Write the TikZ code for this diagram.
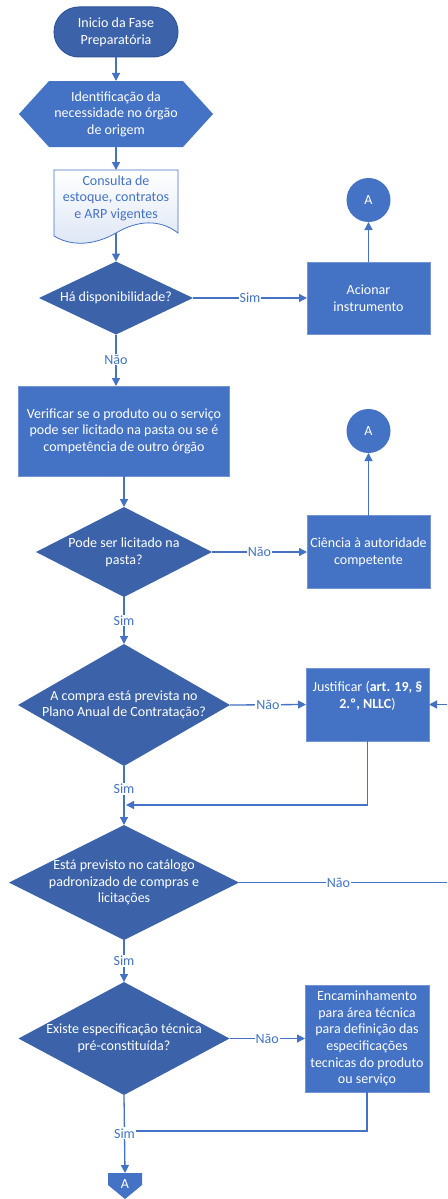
\documentclass[tikz,border=0pt]{standalone}
\usepackage{fontspec}
\setmainfont{Carlito}
\usetikzlibrary{shapes.geometric,arrows.meta}
\definecolor{cbox}{HTML}{4472C4}
\definecolor{cdia}{HTML}{3C63A9}
\definecolor{cdark}{HTML}{2F5597}
\definecolor{cline}{HTML}{4472C4}
\definecolor{cdoc}{HTML}{DDE6F5}
\tikzset{
  fnt/.style={font=\fontsize{14}{16.6}\selectfont},
  txt/.style={fnt, align=center, text=white, inner sep=0pt},
  box/.style={rectangle, fill=cbox, draw=cbox!75!white, line width=0.8pt, inner sep=0pt, outer sep=0pt, align=center, text=white, fnt},
  ghost/.style={rectangle, inner sep=0pt, outer sep=0pt},
  dia/.style={diamond, fill=cdia, inner sep=0pt, outer sep=0pt},
  conn/.style={circle, fill=cbox, minimum size=44pt, inner sep=0pt, outer sep=0pt, text=white, fnt},
  flow/.style={draw=cline, line width=1.3pt, -{Triangle[width=8pt,length=8pt]}},
  plain/.style={draw=cline, line width=1.3pt},
  lab/.style={fnt, text=cline, fill=white, inner sep=1pt}
}
\begin{document}
\begin{tikzpicture}[x=1pt,y=-1pt]
\useasboundingbox (0,0) rectangle (447,1199);
\fill[white] (0,0) rectangle (447,1199);
\clip (0,0) rectangle (447,1199);

% terminator
\node[rectangle, rounded corners=25pt, fill=cdia, draw=cdark, line width=1pt,
      minimum width=124pt, minimum height=50pt, align=center, text=white, fnt, inner sep=0pt]
      (term) at (116,32) {Inicio da Fase\\Preparatória};

% hexagon
\node[ghost, minimum width=194pt, minimum height=66pt] (hex) at (116,114) {};
\fill[cbox] (hex.west) -- ([xshift=30pt]hex.north west) -- ([xshift=-30pt]hex.north east)
   -- (hex.east) -- ([xshift=-30pt]hex.south east) -- ([xshift=30pt]hex.south west) -- cycle;
\node[txt] (hext) at (hex) {Identificação da\\necessidade no órgão\\de origem};

% document
\node[ghost, minimum width=124pt, minimum height=63pt] (doc) at (116,201.5) {};
\shade[top color=white, bottom color=cdoc, draw=cline, line width=0.8pt]
  (54,170) -- (178,170) -- (178,233)
  .. controls (160,219) and (138,220) .. (116,233)
  .. controls (95,245) and (72,247) .. (54,236) -- cycle;
\node[txt, text=cline] (doct) at (116,198) {Consulta de\\estoque, contratos\\e ARP vigentes};
\coordinate (docb) at (116,233);

% decision 1
\node[dia, minimum width=154pt, minimum height=73pt] (d1) at (116,298) {};
\node[txt] (d1t) at (d1) {Há disponibilidade?};
\node[box, minimum width=123pt, minimum height=72pt] (act) at (368.5,298) {Acionar\\instrumento};
\node[conn] (A1) at (368.5,200) {A};

% verify box
\node[box, minimum width=211pt, minimum height=90pt] (ver) at (124,431)
   {Verificar se o produto ou o serviço\\pode ser licitado na pasta ou se é\\competência de outro órgão};

% decision 2
\node[dia, minimum width=176pt, minimum height=90pt] (d2) at (124,552) {};
\node[txt] (d2t) at (d2) {Pode ser licitado na\\pasta?};
\node[box, minimum width=123pt, minimum height=73pt] (cie) at (368.5,552) {Ciência à autoridade\\competente};
\node[conn] (A2) at (368.5,431) {A};

% decision 3
\node[dia, minimum width=212pt, minimum height=122pt] (d3) at (124,705) {};
\node[txt] (d3t) at (d3) {A compra está prevista no\\Plano Anual de Contratação?};
\node[box, minimum width=123pt, minimum height=73pt] (jus) at (367.5,704.5) {};
\node[txt] (just) at (367.5,696) {Justificar (\textbf{art. 19, §}\\\textbf{2.º, NLLC})};

% decision 4
\node[dia, minimum width=230pt, minimum height=115pt] (d4) at (124,882.5) {};
\node[txt] (d4t) at (d4) {Está previsto no catálogo\\padronizado de compras e\\licitações};

% decision 5
\node[dia, minimum width=211pt, minimum height=113pt] (d5) at (124,1038.5) {};
\node[txt] (d5t) at (d5) {Existe especificação técnica\\pré-constituída?};
\node[box, minimum width=124pt, minimum height=107pt] (enc) at (367,1038.5)
   {Encaminhamento\\para área técnica\\para definição das\\especificações\\tecnicas do produto\\ou serviço};

% off-page connector
\node[ghost, minimum width=34pt, minimum height=26pt] (off) at (125,1186) {};
\fill[cbox] (off.north west) -- (off.north east) -- ([yshift=-12pt]off.north east)
   -- (off.south) -- ([yshift=-12pt]off.north west) -- cycle;
\node[txt] (offt) at (125,1184) {A};

% coordinates for bends
\coordinate (outR) at (470,0);
\coordinate (m1) at (126,805);
\coordinate (m2) at (124,1131);

% connectors
\draw[flow] (term) -- (hex);
\draw[flow] (hex.south) -- (doc.north);
\draw[flow] (docb) -- (d1.north);
\draw[flow] (d1.east) -- node[lab] (l1) {Sim} (act.west);
\draw[flow] (act.north) -- (A1.south);
\draw[flow] (d1.south) -- node[lab, pos=0.49] (l2) {Não} (d1.south |- ver.north);
\draw[flow] (ver.south) -- (d2.north);
\draw[flow] (d2.east) -- node[lab] (l3) {Não} (cie.west);
\draw[flow] (cie.north) -- (A2.south);
\draw[flow] (d2.south) -- node[lab] (l4) {Sim} (d3.north);
\draw[flow] (d3.east) -- node[lab] (l5) {Não} (jus.west);
\draw[flow] (jus.south) |- (m1);
\draw[flow] (d3.south) -- node[lab, pos=0.39] (l6) {Sim} (d4.north);
\draw[flow] (d4.east) -- node[lab, pos=0.43] (l7) {Não} (d4.east -| outR) -- (outR |- jus.east) -- (jus.east);
\draw[flow] (d4.south) -- node[lab] (l8) {Sim} (d5.north);
\draw[flow] (d5.east) -- node[lab] (l9) {Não} (enc.west);
\draw[plain] (enc.south) |- (m2);
\draw[flow] (d5.south) -- node[lab, pos=0.49] (l10) {Sim} (off.north);
\end{tikzpicture}
\end{document}
